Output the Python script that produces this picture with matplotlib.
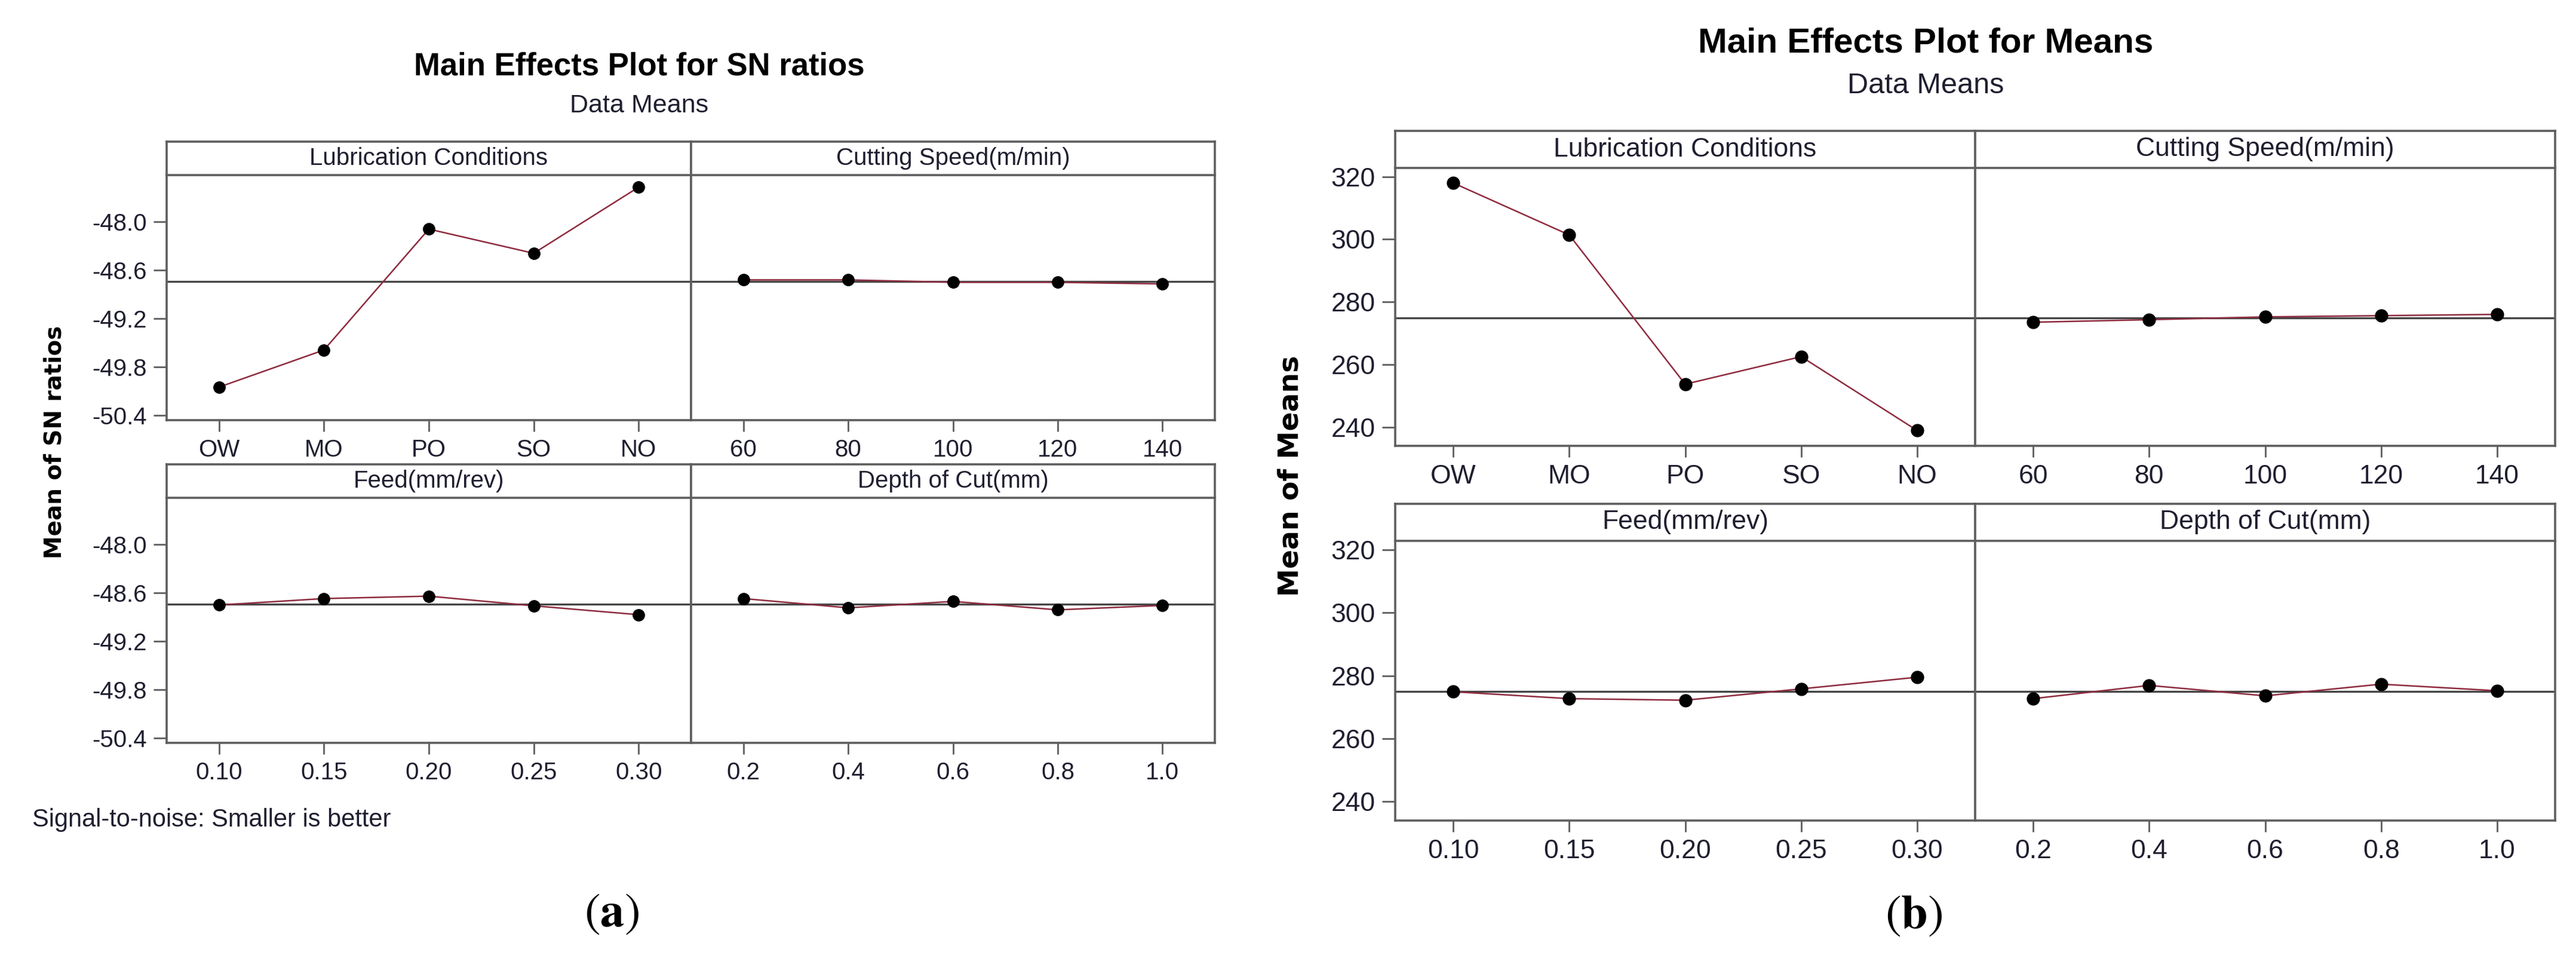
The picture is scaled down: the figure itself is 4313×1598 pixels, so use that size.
import numpy as np
import matplotlib.pyplot as plt

plt.rcParams['font.family'] = ['Liberation Sans', 'DejaVu Sans']
plt.rcParams['mathtext.fontset'] = 'stix'

W, H = 4313, 1598
fig = plt.figure(figsize=(W / 100, H / 100), dpi=100)

# factor names and levels
factor_titles = ['Lubrication Conditions', 'Cutting Speed(m/min)', 'Feed(mm/rev)', 'Depth of Cut(mm)']
lub_levels = ['OW', 'MO', 'PO', 'SO', 'NO']
speed_levels = ['60', '80', '100', '120', '140']
feed_levels = ['0.10', '0.15', '0.20', '0.25', '0.30']
depth_levels = ['0.2', '0.4', '0.6', '0.8', '1.0']

# (a) mean of SN ratios
sn_lub = [-50.05, -49.59, -48.09, -48.39, -47.57]
sn_speed = [-48.72, -48.72, -48.75, -48.75, -48.77]
sn_feed = [-48.75, -48.67, -48.64, -48.76, -48.87]
sn_depth = [-48.67, -48.785, -48.705, -48.81, -48.755]
sn_yticks = [-48.0, -48.6, -49.2, -49.8, -50.4]

# (b) mean of means
mean_lub = [318.0, 301.4, 253.7, 262.5, 238.9]
mean_speed = [273.5, 274.3, 275.2, 275.6, 276.0]
mean_feed = [274.9, 272.7, 272.2, 275.8, 279.5]
mean_depth = [272.7, 276.9, 273.6, 277.3, 275.2]
mean_yticks = [240, 260, 280, 300, 320]

FRAME = '#5e5e5e'
TXT = '#1f1f30'
LINE = '#8e2b3f'


def px_axes(x0, y0, x1, y1):
    return fig.add_axes([x0 / W, 1 - y1 / H, (x1 - x0) / W, (y1 - y0) / H])


def draw_panel(cols, rows, series, levels, yticks, yfmt, ylim, fs, ms):
    grand = np.mean(series[0])
    k = 0
    for r, (s_top, a_top, a_bot) in enumerate(rows):
        for c in range(2):
            x0, x1 = cols[c], cols[c + 1]
            ax = px_axes(x0, a_top, x1, a_bot)
            xs = np.arange(len(levels[k]))
            ax.axhline(grand, color='#454545', lw=2.4, zorder=1)
            ax.plot(xs, series[k], color=LINE, lw=1.8, zorder=2)
            ax.plot(xs, series[k], 'o', color='black', ms=ms, zorder=3)
            ax.set_xlim(-0.5, len(xs) - 0.5)
            ax.set_ylim(*ylim)
            ax.set_xticks(xs)
            ax.set_xticklabels(levels[k])
            ax.spines['top'].set_visible(False)
            for sp in ['left', 'right', 'bottom']:
                ax.spines[sp].set_color(FRAME)
                ax.spines[sp].set_linewidth(2.6)
            ax.tick_params(axis='x', direction='out', length=14, width=2,
                           color=FRAME, labelsize=fs, labelcolor=TXT, pad=8)
            if c == 0:
                ax.set_yticks(yticks)
                ax.set_yticklabels([yfmt % v for v in yticks])
                ax.tick_params(axis='y', direction='out', length=16, width=2,
                               color=FRAME, labelsize=fs, labelcolor=TXT, pad=8)
            else:
                ax.set_yticks([])

            # strip with factor name, drawn on top so its border stays whole
            st = px_axes(x0, s_top, x1, a_top)
            st.set_zorder(5)
            st.set_xticks([])
            st.set_yticks([])
            for sp in st.spines.values():
                sp.set_color(FRAME)
                sp.set_linewidth(2.6)
            st.text(0.5, 0.5, factor_titles[k], ha='center', va='center',
                    fontsize=fs, color=TXT, transform=st.transAxes)
            k += 1


# panel (a)
draw_panel([279, 1157, 2034], [(237, 293, 703), (777, 833, 1243)],
           [sn_lub, sn_speed, sn_feed, sn_depth],
           [lub_levels, speed_levels, feed_levels, depth_levels],
           sn_yticks, '%.1f', (-50.46, -47.42), 29, 14)

fig.text(1070 / W, 1 - 126 / H, 'Main Effects Plot for SN ratios', ha='center',
         va='baseline', fontsize=38, fontweight='bold', color='black')
fig.text(1070 / W, 1 - 188 / H, 'Data Means', ha='center', va='baseline',
         fontsize=31, color=TXT)
fig.text(92 / W, 1 - 740 / H, 'Mean of SN ratios', ha='center', va='center',
         rotation=90, fontsize=28, fontweight='bold', family='DejaVu Sans')
fig.text(54 / W, 1 - 1383 / H, 'Signal-to-noise: Smaller is better', ha='left',
         va='baseline', fontsize=30, color=TXT)

# panel (b)
draw_panel([2336, 3307, 4278], [(219, 281, 746), (843, 905, 1373)],
           [mean_lub, mean_speed, mean_feed, mean_depth],
           [lub_levels, speed_levels, feed_levels, depth_levels],
           mean_yticks, '%d', (234.0, 322.8), 32, 15)

fig.text(3224 / W, 1 - 87 / H, 'Main Effects Plot for Means', ha='center',
         va='baseline', fontsize=42, fontweight='bold', color='black')
fig.text(3224 / W, 1 - 156 / H, 'Data Means', ha='center', va='baseline',
         fontsize=35, color=TXT)
fig.text(2161 / W, 1 - 796 / H, 'Mean of Means', ha='center', va='center',
         rotation=90, fontsize=34, fontweight='bold', family='DejaVu Sans')

# sub-figure captions
fig.text(1024 / W, 1 - 1550 / H, r'($\mathbf{a}$)', ha='center', va='baseline',
         fontsize=58, family='STIXGeneral')
fig.text(3204 / W, 1 - 1553 / H, r'($\mathbf{b}$)', ha='center', va='baseline',
         fontsize=58, family='STIXGeneral')

fig.savefig('out.png', dpi=100, facecolor='white')
